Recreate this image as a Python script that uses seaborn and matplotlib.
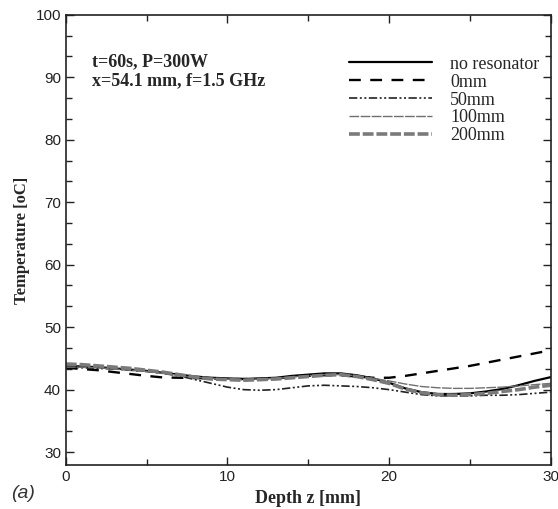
import matplotlib
matplotlib.use("Agg")
import matplotlib.pyplot as plt
import seaborn as sns
import pandas as pd
from matplotlib.ticker import MultipleLocator, AutoMinorLocator

# depth in mm, temperatures in oC
depth = list(range(0, 31))
no_resonator = [43.8, 43.7, 43.6, 43.4, 43.2, 43.0, 42.7, 42.4, 42.1, 41.9, 41.8,
                41.7, 41.8, 41.9, 42.2, 42.4, 42.6, 42.6, 42.3, 41.8, 41.1,
                40.2, 39.6, 39.3, 39.3, 39.4, 39.7, 40.1, 40.7, 41.4, 42.0]
mm0 = [43.5, 43.3, 43.1, 42.8, 42.5, 42.2, 41.95, 41.9, 41.85, 41.8, 41.7,
       41.7, 41.7, 41.8, 42.0, 42.2, 42.3, 42.3, 42.1, 41.9, 41.9,
       42.2, 42.6, 43.0, 43.4, 43.8, 44.3, 44.8, 45.3, 45.8, 46.3]
mm50 = [43.6, 43.5, 43.4, 43.3, 43.1, 42.9, 42.6, 42.2, 41.6, 41.0, 40.4,
        40.0, 39.9, 40.0, 40.3, 40.6, 40.7, 40.6, 40.5, 40.3, 40.0,
        39.6, 39.2, 39.0, 39.0, 39.0, 39.1, 39.1, 39.2, 39.4, 39.6]
mm100 = [43.6, 43.6, 43.5, 43.3, 43.1, 42.9, 42.6, 42.3, 42.0, 41.8, 41.7,
         41.6, 41.7, 41.8, 42.0, 42.2, 42.4, 42.4, 42.2, 41.8, 41.4,
         40.9, 40.5, 40.3, 40.2, 40.2, 40.3, 40.4, 40.6, 40.8, 41.0]
mm200 = [44.1, 44.0, 43.8, 43.6, 43.4, 43.1, 42.8, 42.4, 42.0, 41.7, 41.6,
         41.5, 41.6, 41.7, 41.9, 42.1, 42.3, 42.4, 42.1, 41.6, 41.0,
         40.1, 39.5, 39.2, 39.1, 39.2, 39.4, 39.7, 40.0, 40.4, 40.7]

labels = ["no resonator", "0mm", "50mm", "100mm", "200mm"]
series = [no_resonator, mm0, mm50, mm100, mm200]

df = pd.DataFrame({"depth": depth * len(labels),
                   "temp": sum(series, []),
                   "case": [lab for lab in labels for _ in depth]})

sns.set_style("ticks")
plt.rcParams["font.family"] = ["Liberation Sans", "DejaVu Sans"]

styles = {
    "no resonator": dict(color="black", lw=1.6, ls="-"),
    "0mm": dict(color="black", lw=1.7, ls=(0, (5, 4))),
    "50mm": dict(color="#222222", lw=1.2, ls=(0, (5, 1.5, 1.2, 1.5, 1.2, 1.5))),
    "100mm": dict(color="#707070", lw=1.0, ls=(0, (7, 1))),
    "200mm": dict(color="#7a7a7a", lw=2.6, ls=(0, (3, 0.8))),
}

fig = plt.figure(figsize=(5.58, 5.09), dpi=100)
ax = fig.add_axes([0.118, 0.086, 0.869, 0.885])

for lab in labels:
    sub = df[df["case"] == lab]
    sns.lineplot(data=sub, x="depth", y="temp", ax=ax, label=lab,
                 color=styles[lab]["color"], linewidth=styles[lab]["lw"],
                 linestyle=styles[lab]["ls"])

ax.set_xlim(0, 30)
ax.set_ylim(27.9, 100)
ax.xaxis.set_major_locator(MultipleLocator(10))
ax.xaxis.set_minor_locator(MultipleLocator(5))
ax.yaxis.set_major_locator(MultipleLocator(10))
ax.yaxis.set_minor_locator(AutoMinorLocator(3))
ax.tick_params(which="both", direction="in", top=True, right=True,
               labelsize=11, width=1.0, colors="#222222", labelcolor="#222222")
ax.tick_params(which="major", length=6)
ax.tick_params(which="minor", length=4)
for sp in ax.spines.values():
    sp.set_linewidth(1.2)
    sp.set_color("#222222")

serif = ["Liberation Serif", "DejaVu Serif"]
ax.set_xlabel("Depth z [mm]", fontsize=13, fontweight="bold", family=serif, labelpad=4)
ax.set_ylabel("Temperature [oC]", fontsize=12, fontweight="bold", family=serif, labelpad=4)

ax.text(0.054, 0.915, "t=60s, P=300W\nx=54.1 mm, f=1.5 GHz", transform=ax.transAxes,
        fontsize=13, fontweight="bold", family=serif, va="top", ha="left",
        linespacing=1.15)

leg = ax.legend(loc="upper right", bbox_to_anchor=(1.01, 0.945), frameon=False,
                handlelength=4.6, handletextpad=1.0, labelspacing=0.05,
                prop={"family": serif, "size": 13})

fig.text(0.02, 0.022, "(a)", fontsize=14, style="italic", color="#333333")

fig.savefig("out.png", dpi=100)
